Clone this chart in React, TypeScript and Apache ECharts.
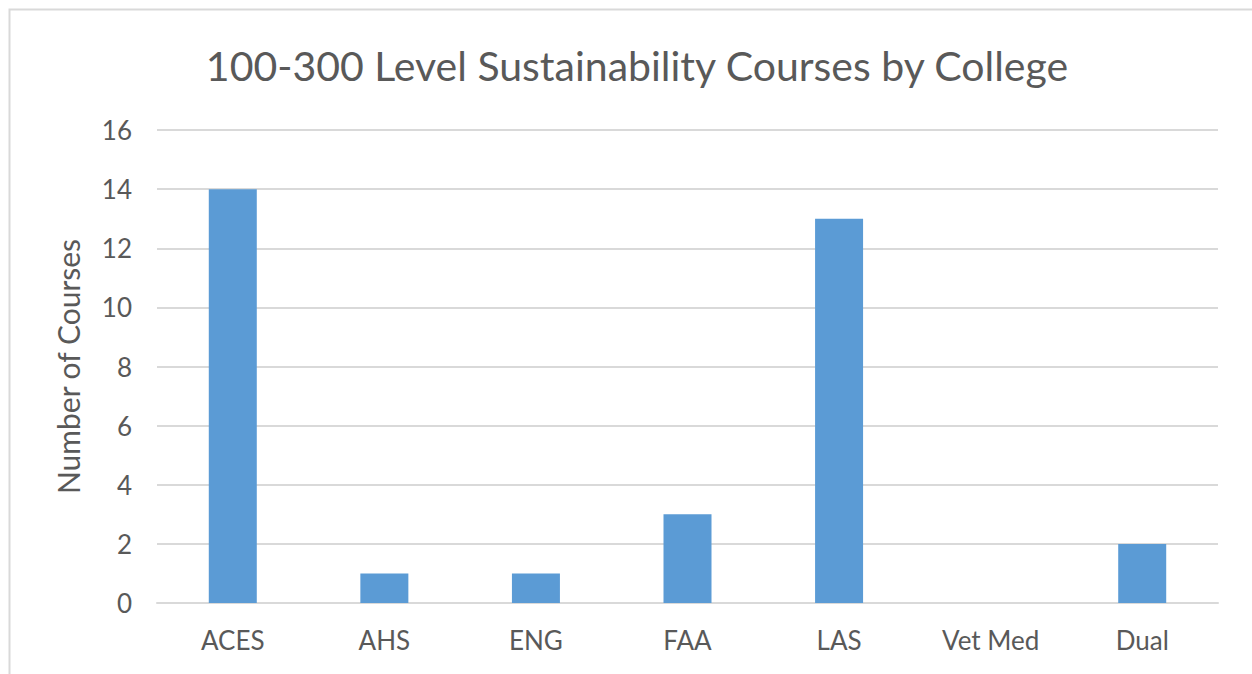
import React, { useEffect, useRef } from "react";
import * as echarts from "echarts";

const TITLE = "100-300 Level Sustainability Courses by College";
const Y_NAME = "Number of Courses";
const categories = ["ACES", "AHS", "ENG", "FAA", "LAS", "Vet Med", "Dual"];
const courses = [14, 1, 1, 3, 13, 0, 2];

const FONT = "Lato";
const TEXT = "#595959";

export default function App() {
  const ref = useRef<HTMLDivElement>(null);
  useEffect(() => {
    if (!ref.current) return;
    const chart = echarts.init(ref.current, null, { renderer: "svg" });
    chart.setOption({
      animation: false,
      backgroundColor: "#ffffff",
      title: {
        text: TITLE,
        left: 632,
        top: 60,
        textAlign: "center",
        textVerticalAlign: "middle",
        textStyle: { fontFamily: FONT, fontSize: 41, fontWeight: "normal", color: TEXT },
      },
      graphic: [
        {
          type: "rect",
          shape: { x: 9.5, y: 9.5, width: 1400, height: 800 },
          style: { fill: "none", stroke: "#d9d9d9", lineWidth: 2 },
          silent: true,
        },
      ],
      grid: { left: 157, right: 34, top: 130, bottom: 71, containLabel: false },
      xAxis: {
        type: "category",
        data: categories,
        axisLine: { show: true, lineStyle: { color: "#d9d9d9", width: 2 } },
        axisTick: { show: false },
        axisLabel: { fontFamily: FONT, fontSize: 26, color: TEXT, margin: 24 },
      },
      yAxis: {
        type: "value",
        min: 0,
        max: 16,
        interval: 2,
        name: Y_NAME,
        nameLocation: "middle",
        nameGap: 74,
        nameTextStyle: { fontFamily: FONT, fontSize: 30, color: TEXT },
        axisLine: { show: false },
        axisTick: { show: false },
        axisLabel: { fontFamily: FONT, fontSize: 26, color: TEXT, margin: 25 },
        splitLine: { lineStyle: { color: "#d9d9d9", width: 2 } },
      },
      series: [
        {
          type: "bar",
          data: courses,
          barWidth: 48,
          itemStyle: { color: "#5b9bd5" },
        },
      ],
    });
    return () => chart.dispose();
  }, []);
  return (
    <div
      ref={ref}
      style={{ position: "absolute", left: 0, top: 0, width: 1252, height: 674 }}
    />
  );
}
